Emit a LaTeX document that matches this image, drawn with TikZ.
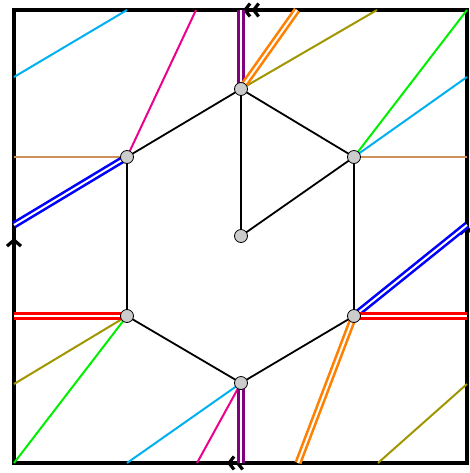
\documentclass[tikz,border=0pt]{standalone}
\usepackage{xcolor}
\usepackage{tikz}
\usetikzlibrary{arrows.meta}

\definecolor{lcyan}{RGB}{0,176,240}
\definecolor{lmagenta}{RGB}{236,0,140}
\definecolor{lpurple}{RGB}{128,0,128}
\definecolor{lorange}{RGB}{255,128,0}
\definecolor{lolive}{RGB}{160,150,0}
\definecolor{lgreen}{RGB}{0,240,0}
\definecolor{ltan}{RGB}{205,145,85}
\definecolor{lblue}{RGB}{0,0,255}
\definecolor{lred}{RGB}{255,0,0}

\begin{document}
\begin{tikzpicture}[x=0.5pt,y=-0.5pt]
      \tikzstyle{every vertex}=[circle,fill=black!20,draw=black,line width=0.4pt,minimum size=6.5pt,inner sep=0pt]
      \tikzstyle{thin edge}=[line width=1pt]
      \tikzstyle{double edge}=[double=white,line width=1.3pt,double distance=1pt]
      \tikzstyle{hex edge}=[black,line width=0.9pt]
      \tikzstyle{frame}=[black,line width=1.6pt]
      \tikzstyle{barb}=[-{Straight Barb[length=3pt,width=7pt]}]
      \tikzstyle{double barb}=[-{Straight Barb[length=2.5pt,width=6.5pt]Straight Barb[length=2.5pt,width=6.5pt]}]

      \useasboundingbox (0,0) rectangle (470,473);

      % Hexagon vertices + centre
      \coordinate (v-T) at (241,89);
      \coordinate (v-UR) at (354,157);
      \coordinate (v-LR) at (354,316);
      \coordinate (v-B) at (241,383);
      \coordinate (v-LL) at (127,316);
      \coordinate (v-UL) at (127,157);
      \coordinate (c) at (241,236);

      % Points on the square
      \coordinate (TL) at (14,10);
      \coordinate (TR) at (467,10);
      \coordinate (BR) at (467,463);
      \coordinate (BL) at (14,463);
      \coordinate (L-cy) at (14,77);   \coordinate (T-cy) at (127,10);
      \coordinate (R-cy) at (467,77);  \coordinate (B-cy) at (127,463);
      \coordinate (T-mg) at (196,10);  \coordinate (B-mg) at (197,463);
      \coordinate (T-ol) at (377,10);  \coordinate (B-ol) at (378,463);
      \coordinate (R-ol) at (467,384); \coordinate (L-ol) at (14,384);
      \coordinate (L-tn) at (14,157);  \coordinate (R-tn) at (467,157);
      \coordinate (T-pu) at (241,10);  \coordinate (B-pu) at (241,463);
      \coordinate (T-or) at (297,10);  \coordinate (B-or) at (298,463);
      \coordinate (L-bl) at (14,225);  \coordinate (R-bl) at (467,225);
      \coordinate (L-rd) at (14,316);  \coordinate (R-rd) at (467,316);

      % Square with gluing marks
      \draw[frame] (TL) -- (TR) -- (BR) -- (BL) -- cycle;
      \coordinate (T-m1) at (262,10); \coordinate (T-m2) at (243,10);
      \coordinate (B-m1) at (246,463); \coordinate (B-m2) at (227,463);
      \coordinate (L-m1) at (14,252); \coordinate (L-m2) at (14,238);
      \coordinate (R-m1) at (467,240); \coordinate (R-m2) at (467,226);
      \draw[frame,double barb] (T-m1) -- (T-m2);
      \draw[frame,double barb] (B-m1) -- (B-m2);
      \draw[frame,barb] (L-m1) -- (L-m2);
      \draw[frame,barb] (R-m1) -- (R-m2);

      % Single coloured lines
      \draw[thin edge,lcyan] (L-cy) -- (T-cy);
      \draw[thin edge,lcyan] (v-UR) -- (R-cy);
      \draw[thin edge,lcyan] (v-B) -- (B-cy);
      \draw[thin edge,lmagenta] (v-UL) -- (T-mg);
      \draw[thin edge,lmagenta] (v-B) -- (B-mg);
      \draw[thin edge,lolive] (v-T) -- (T-ol);
      \draw[thin edge,lolive] (B-ol) -- (R-ol);
      \draw[thin edge,lolive] (v-LL) -- (L-ol);
      \draw[thin edge,lgreen] (v-UR) -- (TR);
      \draw[thin edge,lgreen] (v-LL) -- (BL);
      \draw[thin edge,ltan] (v-UL) -- (L-tn);
      \draw[thin edge,ltan] (v-UR) -- (R-tn);

      % Double coloured lines
      \draw[double edge,lpurple] (v-T) -- (T-pu);
      \draw[double edge,lpurple] (v-B) -- (B-pu);
      \draw[double edge,lorange] (v-T) -- (T-or);
      \draw[double edge,lorange] (v-LR) -- (B-or);
      \draw[double edge,lblue] (v-UL) -- (L-bl);
      \draw[double edge,lblue] (v-LR) -- (R-bl);
      \draw[double edge,lred] (v-LL) -- (L-rd);
      \draw[double edge,lred] (v-LR) -- (R-rd);

      % Hexagon + two spokes
      \draw[hex edge] (v-T) -- (v-UR) -- (v-LR) -- (v-B) -- (v-LL) -- (v-UL) -- cycle;
      \draw[hex edge] (v-T) -- (c) -- (v-UR);

      % Vertex dots
      \foreach \v in {v-T,v-UR,v-LR,v-B,v-LL,v-UL,c}
        \node[every vertex] (\v-dot) at (\v) {};
\end{tikzpicture}
\end{document}
